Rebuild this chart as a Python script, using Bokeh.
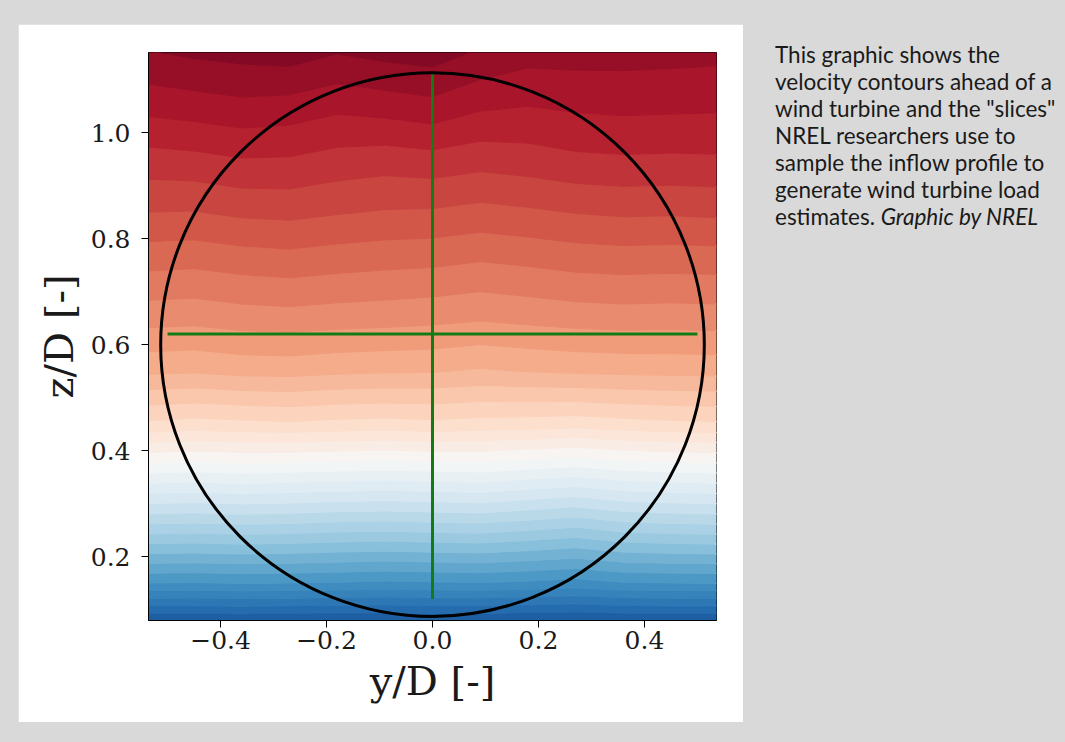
import numpy as np
from bokeh.plotting import figure
from bokeh.models import Range1d, FixedTicker, Div
from bokeh.layouts import row
from bokeh.embed import file_html
from bokeh.resources import INLINE

# ---------------- data ----------------
# lateral positions y/D of the sampled columns
y_cols = [-0.54, -0.45, -0.36, -0.27, -0.18, -0.09, 0.0, 0.09, 0.18, 0.27, 0.36, 0.45, 0.54]
# heights z/D of the sampled rows
z_rows = [0.07, 0.15, 0.25, 0.35, 0.45, 0.55, 0.65, 0.75, 0.85, 0.95, 1.05, 1.16]
# normalised streamwise velocity at each (z_row, y_col)
u_z007 = [0.060, 0.061, 0.062, 0.060, 0.059, 0.060, 0.062, 0.061, 0.059, 0.058, 0.060, 0.061, 0.060]
u_z015 = [0.200, 0.199, 0.201, 0.200, 0.198, 0.195, 0.197, 0.199, 0.195, 0.190, 0.198, 0.200, 0.201]
u_z025 = [0.335, 0.333, 0.336, 0.334, 0.330, 0.328, 0.331, 0.333, 0.326, 0.318, 0.330, 0.334, 0.336]
u_z035 = [0.465, 0.462, 0.466, 0.463, 0.460, 0.458, 0.460, 0.463, 0.455, 0.448, 0.458, 0.462, 0.465]
u_z045 = [0.595, 0.590, 0.593, 0.596, 0.592, 0.590, 0.593, 0.590, 0.588, 0.585, 0.590, 0.594, 0.596]
u_z055 = [0.680, 0.678, 0.683, 0.684, 0.680, 0.678, 0.677, 0.672, 0.676, 0.679, 0.681, 0.682, 0.683]
u_z065 = [0.735, 0.733, 0.738, 0.740, 0.737, 0.735, 0.732, 0.728, 0.732, 0.736, 0.738, 0.737, 0.738]
u_z075 = [0.780, 0.778, 0.783, 0.786, 0.782, 0.779, 0.777, 0.772, 0.776, 0.781, 0.783, 0.782, 0.783]
u_z085 = [0.825, 0.824, 0.830, 0.832, 0.827, 0.823, 0.822, 0.817, 0.821, 0.826, 0.829, 0.828, 0.830]
u_z095 = [0.865, 0.868, 0.874, 0.873, 0.866, 0.862, 0.866, 0.860, 0.864, 0.870, 0.872, 0.871, 0.872]
u_z105 = [0.908, 0.913, 0.918, 0.915, 0.906, 0.911, 0.917, 0.904, 0.900, 0.904, 0.906, 0.905, 0.904]
u_z116 = [0.952, 0.958, 0.962, 0.966, 0.955, 0.962, 0.966, 0.950, 0.938, 0.938, 0.937, 0.936, 0.934]

# rotor disk and sampling slices
rotor_center_y = [0.0]
rotor_center_z = [0.6]
rotor_radius = 0.513
slice_h_y = [-0.5, 0.5]
slice_h_z = [0.62, 0.62]
slice_v_y = [0.0, 0.0]
slice_v_z = [0.12, 1.115]

x_ticks = [-0.4, -0.2, 0.0, 0.2, 0.4]
x_tick_labels = ["\u22120.4", "\u22120.2", "0.0", "0.2", "0.4"]
z_ticks = [0.2, 0.4, 0.6, 0.8, 1.0]
z_tick_labels = ["0.2", "0.4", "0.6", "0.8", "1.0"]

caption_lines = [
    "This graphic shows the",
    "velocity contours ahead of a",
    "wind turbine and the \"slices\"",
    "NREL researchers use to",
    "sample the inflow profile to",
    "generate wind turbine load",
]
caption_last = "estimates. "
caption_italic = "Graphic by NREL"

# ---------------- build ----------------
U = np.array([u_z007, u_z015, u_z025, u_z035, u_z045, u_z055,
              u_z065, u_z075, u_z085, u_z095, u_z105, u_z116])
Y, Z = np.meshgrid(np.array(y_cols), np.array(z_rows))

levels = np.linspace(0.05, 0.975, 38)

rdbu_r = ["#053061", "#2166ac", "#4393c3", "#92c5de", "#d1e5f0", "#f7f7f7",
          "#fddbc7", "#f4a582", "#d6604d", "#b2182b", "#67001f"]


def _rgb(h):
    return [int(h[i:i + 2], 16) for i in (1, 3, 5)]


def cmap(v):
    v = min(max(v, 0.0), 1.0) * 10
    i = min(int(v), 9)
    t = v - i
    a, b = _rgb(rdbu_r[i]), _rgb(rdbu_r[i + 1])
    c = [round(a[k] + (b[k] - a[k]) * t) for k in range(3)]
    return "#%02x%02x%02x" % tuple(c)


mids = 0.5 * (levels[:-1] + levels[1:])
band_colors = [cmap(m) for m in mids]

p = figure(width=725, height=698,
           x_range=Range1d(-0.536, 0.536), y_range=Range1d(0.0792, 1.1515),
           output_backend="svg", toolbar_location=None,
           min_border_left=130, min_border_right=27, min_border_top=28, min_border_bottom=102,
           border_fill_color="white", background_fill_color="white",
           outline_line_color="black", outline_line_width=1)

drawn = False
try:
    from bokeh.plotting.contour import contour_data
    cd = contour_data(x=Y, y=Z, z=U, levels=levels, want_fill=True, want_line=False)
    fd = cd.fill_data
    idx = [int(np.argmin(np.abs(levels - lo))) for lo in fd.lower_levels]
    cols = [band_colors[min(i, len(band_colors) - 1)] for i in idx]
    p.multi_polygons(xs=fd.xs, ys=fd.ys, fill_color=cols, line_color=cols, line_width=1.0)
    drawn = True
except Exception:
    drawn = False
if not drawn:
    p.contour(x=Y, y=Z, z=U, levels=levels, fill_color=band_colors, line_color=None)

p.line(slice_h_y, slice_h_z, line_color="#147a14", line_width=3)
p.line(slice_v_y, slice_v_z, line_color="#147a14", line_width=3)
p.circle(x=rotor_center_y, y=rotor_center_z, radius=rotor_radius,
         fill_color=None, line_color="black", line_width=3)

p.grid.visible = False
p.xaxis.ticker = FixedTicker(ticks=x_ticks)
p.yaxis.ticker = FixedTicker(ticks=z_ticks)
p.xaxis.major_label_overrides = dict(zip(x_ticks, x_tick_labels))
p.yaxis.major_label_overrides = dict(zip(z_ticks, z_tick_labels))
p.xaxis.axis_label = "y/D [-]"
p.yaxis.axis_label = "z/D [-]"
for ax in (p.xaxis[0], p.yaxis[0]):
    ax.major_label_text_font = "DejaVu Serif"
    ax.major_label_text_font_size = "25px"
    ax.major_label_text_color = "#1a1a1a"
    ax.axis_label_text_font = "DejaVu Serif"
    ax.axis_label_text_font_size = "40px"
    ax.axis_label_text_font_style = "normal"
    ax.axis_label_text_color = "#1a1a1a"
    ax.major_tick_out = 7
    ax.major_tick_in = 0
    ax.minor_tick_out = 0
    ax.minor_tick_in = 0
    ax.axis_line_color = "black"
    ax.major_tick_line_color = "black"
p.xaxis.major_label_standoff = 3
p.xaxis.axis_label_standoff = 6
p.yaxis.major_label_standoff = 11
p.yaxis.axis_label_standoff = 6

caption_html = "<br>".join(caption_lines) + "<br>" + caption_last + "<i>" + caption_italic + "</i>"
div = Div(text=caption_html, width=282,
          styles={"font-family": "Lato", "font-size": "22.5px", "line-height": "27px",
                  "color": "#1a1a1a", "margin-left": "32px", "margin-top": "17px"})

layout = row(p, div, styles={"background-color": "#d9d9d9",
                             "padding": "24px 0px 20px 18px",
                             "width": "1065px", "height": "742px",
                             "box-sizing": "border-box"})

open("out.html", "w").write(file_html(layout, INLINE))
